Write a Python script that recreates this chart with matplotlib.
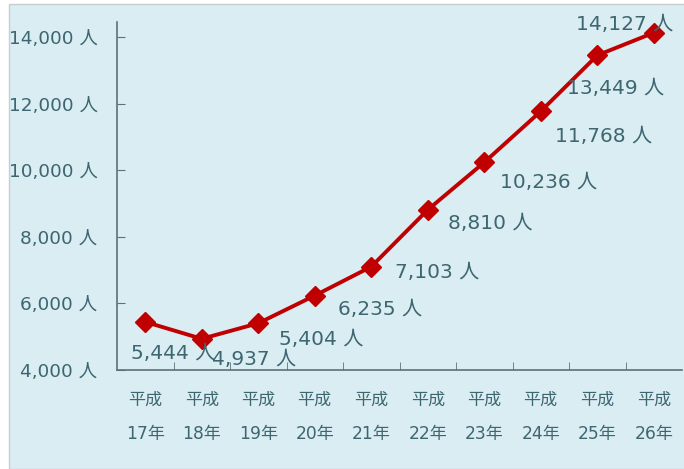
import matplotlib.pyplot as plt
import matplotlib.patches as patches
import numpy as np

plt.rcParams['font.family'] = ['DejaVu Sans', 'Noto Sans CJK JP']

years = ['17年', '18年', '19年', '20年', '21年', '22年', '23年', '24年', '25年', '26年']
people = [5444, 4937, 5404, 6235, 7103, 8810, 10236, 11768, 13449, 14127]
yticks = [4000, 6000, 8000, 10000, 12000, 14000]

# label offsets (pixels) from each point
label_dx = [28, 52, 63, 65, 66, 63, 64, 63, 18, -29]
label_dy = [-32, -21, -16, -14, -6, -14, -20, -25, -33, 8]

bg = '#daedf3'
txt = '#3e6670'

fig = plt.figure(figsize=(6.84, 4.69), dpi=100)
fig.patch.set_facecolor('white')
fig.patches.append(patches.Rectangle((9/684, 0), 1, 1 - 4/469, transform=fig.transFigure,
                                     facecolor=bg, edgecolor='#c8ced0', linewidth=1, zorder=-10))

ax = fig.add_axes([117/684, 1 - 370/469, 565/684, 348/469])
ax.set_facecolor(bg)

x = np.arange(len(people))
ax.plot(x, people, color='#c00000', linewidth=2.8, marker='D', markersize=10,
        markeredgewidth=1, zorder=3, clip_on=False)

for i, v in enumerate(people):
    ax.annotate(f'{v:,} 人', (x[i], v), xytext=(label_dx[i], label_dy[i]),
                textcoords='offset pixels', ha='center', va='center',
                fontsize=14.5, color=txt, zorder=4)

ax.set_xlim(-0.5, len(people) - 0.5)
ax.set_ylim(4000, 14450)
ax.set_yticks(yticks)
ax.set_yticklabels([f'{t:,} 人' for t in yticks], fontsize=13.3, color=txt)
ax.set_xticks(x)
ax.set_xticklabels(['平成\n' + y for y in years], fontsize=12.3, color=txt, linespacing=2.15)
ax.set_xticks(x[:-1] + 0.5, minor=True)
ax.tick_params(axis='x', which='major', length=0, pad=15)
ax.tick_params(axis='x', which='minor', direction='in', length=6, color='#5f7077')
ax.tick_params(axis='y', direction='in', length=6, pad=14, color='#5f7077')

for s in ['top', 'right']:
    ax.spines[s].set_visible(False)
for s in ['left', 'bottom']:
    ax.spines[s].set_color('#5f7077')
    ax.spines[s].set_linewidth(1.2)

fig.savefig('out.png', dpi=100, facecolor=fig.get_facecolor())
